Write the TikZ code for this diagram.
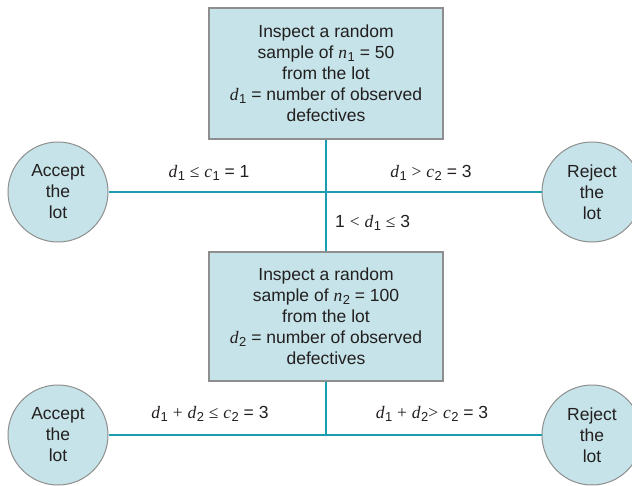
\documentclass[tikz,border=0pt]{standalone}
\usepackage{fontspec}
\setmainfont{Liberation Sans}
\newfontfamily\vf{Liberation Serif}
\newcommand\V[2]{{\vf\itshape #1}\kern0.5pt\raisebox{-0.32ex}{\fontsize{13}{13}\selectfont #2}}
\newcommand\R[1]{{\vf #1}}
\definecolor{boxfill}{HTML}{C5E3E8}
\definecolor{boxdraw}{HTML}{8E8E8E}
\definecolor{teal}{HTML}{1A9DAE}
\definecolor{ink}{HTML}{231F20}
\begin{document}
\begin{tikzpicture}[x=1pt,y=-1pt,
  every node/.style={text=ink,font=\fontsize{17.5}{21}\selectfont},
  stage/.style={draw=boxdraw,fill=boxfill,line width=1.2pt,minimum width=234pt,align=center,inner sep=0pt},
  lot/.style={circle,draw=boxdraw,fill=boxfill,line width=1pt,minimum size=100pt,align=center,inner sep=0pt},
  conn/.style={draw=teal,line width=2.2pt},
  lbl/.style={inner sep=0pt}]
\useasboundingbox (0,0) rectangle (632,485);
\node[stage,minimum height=131pt] (b1) at (326,73.5) {Inspect a random\\ sample of \V{n}{1} = 50\\ from the lot\\ \V{d}{1} = number of observed\\ defectives};
\node[stage,minimum height=129pt] (b2) at (326,316.5) {Inspect a random\\ sample of \V{n}{2} = 100\\ from the lot\\ \V{d}{2} = number of observed\\ defectives};
\node[lot] (a1) at (58,192) {Accept\\ the\\ lot};
\node[lot] (r1) at (592,192) {Reject\\ the\\ lot};
\node[lot] (a2) at (58,435) {Accept\\ the\\ lot};
\node[lot] (r2) at (592,435) {Reject\\ the\\ lot};
\coordinate (j1) at (326,192);
\coordinate (j2) at (326,435);
\draw[conn] (a1.east) -- (r1.west);
\draw[conn] (b1.south) -- (b2.north);
\draw[conn] (a2.east) -- (r2.west);
\draw[conn] (b2.south) -- (j2);
\node[lbl] (l1) at (209,173) {\V{d}{1} \R{≤} \V{c}{1} = 1};
\node[lbl] (l2) at (431,173) {\V{d}{1} \R{>} \V{c}{2} = 3};
\node[lbl,anchor=west] (l3) at (335,223) {1 \R{<} \V{d}{1} \R{≤} 3};
\node[lbl] (l4) at (210,414) {\V{d}{1} \R{+} \V{d}{2} \R{≤} \V{c}{2} = 3};
\node[lbl] (l5) at (432,414) {\V{d}{1} \R{+} \V{d}{2}\R{>} \V{c}{2} = 3};
\end{tikzpicture}
\end{document}
